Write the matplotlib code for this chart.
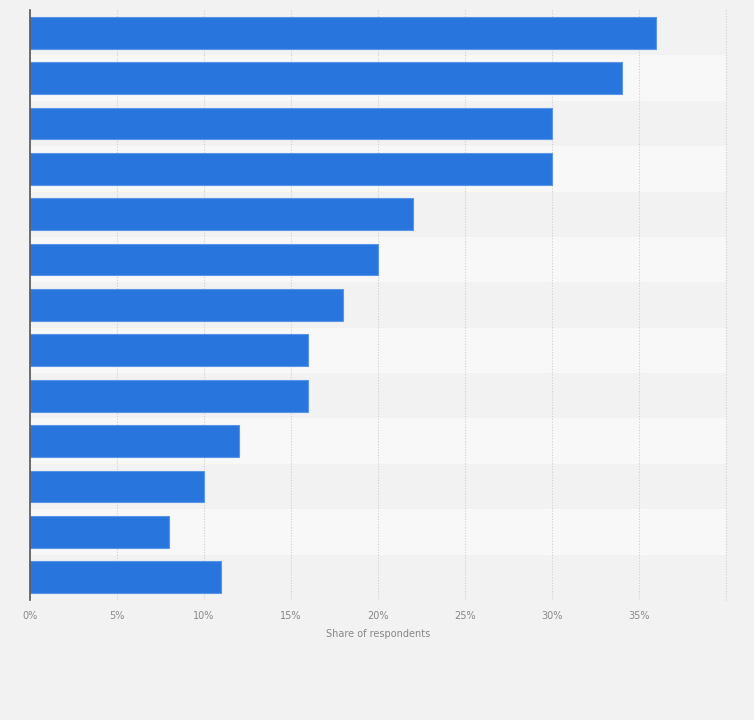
import matplotlib.pyplot as plt

values = [36, 34, 30, 30, 22, 20, 18, 16, 16, 12, 10, 8, 11]
ticks = [0, 5, 10, 15, 20, 25, 30, 35, 40]
tick_labels = ["0%", "5%", "10%", "15%", "20%", "25%", "30%", "35%", ""]

fig = plt.figure(figsize=(7.54, 7.2), dpi=100, facecolor="#f2f2f2")
ax = fig.add_axes([30 / 754, 120 / 720, 696 / 754, 590 / 720])
ax.set_facecolor("#f2f2f2")

n = len(values)
for i in range(n):
    ax.axhspan(i - 0.5, i + 0.5, color="#f2f2f2" if i % 2 == 0 else "#f8f8f8", zorder=0, lw=0)

ax.barh(range(n), values, height=0.7, color="#2876dd", edgecolor="#5b95e6", linewidth=0.8, zorder=3)

ax.set_xlim(0, 40)
ax.set_ylim(n - 0.5, -0.5)
ax.set_xticks(ticks)
ax.set_xticklabels(tick_labels, fontsize=7, color="#888888")
ax.set_yticks([])
ax.tick_params(axis="x", length=0, pad=8)
ax.grid(axis="x", color="#d0d0d0", linestyle=(0, (1, 1.5)), linewidth=0.8, zorder=1)
ax.axvline(ticks[-1], color="#d0d0d0", linestyle=(0, (1, 1.5)), linewidth=0.8, zorder=1, clip_on=False)
for s in ["top", "right", "bottom"]:
    ax.spines[s].set_visible(False)
ax.spines["left"].set_color("#555555")
ax.spines["left"].set_linewidth(1.2)
ax.spines["left"].set_zorder(4)
ax.set_xlabel("Share of respondents", fontsize=7, color="#888888", labelpad=6)

fig.savefig("out.png", dpi=100, facecolor=fig.get_facecolor())
